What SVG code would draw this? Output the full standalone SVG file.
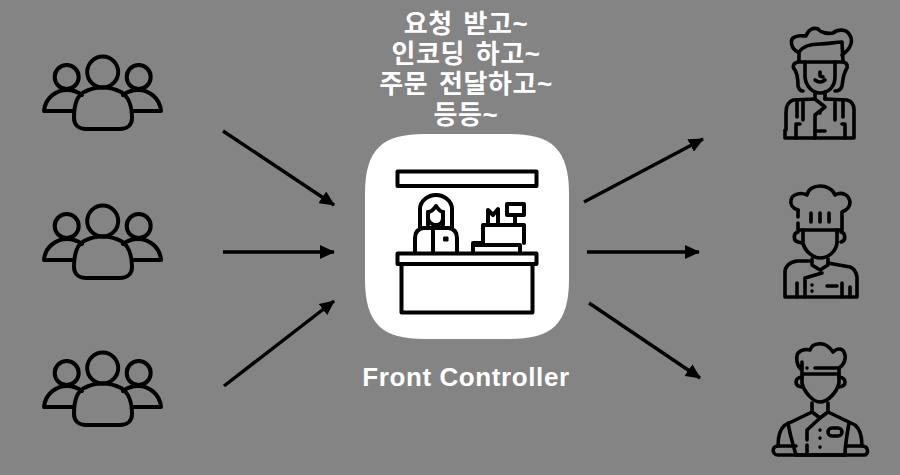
<svg xmlns="http://www.w3.org/2000/svg" width="900" height="475" viewBox="0 0 900 475">
<style>
.i{fill:none;stroke:#000;stroke-width:4;stroke-linecap:round;stroke-linejoin:round}
.t{fill:none;stroke:#000;stroke-width:3.6;stroke-linecap:round;stroke-linejoin:round}
.c{stroke:#000;stroke-width:3.4;fill:none}
.l{fill:#fff;font-family:"Liberation Sans","Noto Sans CJK KR",sans-serif;font-weight:700;text-anchor:middle}
.k{font-size:26px;letter-spacing:.6px;word-spacing:3px}
</style>
<defs>
<marker id="a" markerUnits="userSpaceOnUse" markerWidth="15" markerHeight="14" refX="14" refY="7" orient="auto"><path d="M0 0L15 7L0 14Z" fill="#000"/></marker>
<g id="p" class="i">
<circle cx="102.700" cy="72" r="15.500"/><circle cx="66.700" cy="77" r="12"/><circle cx="138.700" cy="77" r="12"/>
<path d="M84 92C76 96 74 106 74 118C74 125 79 129 86 129H120C127 129 132 125 132 118C132 106 128 96 121 92C110 86 95 86 84 92Z"/>
<path d="M73 111H44C45 98 56 90 67 90C72 90 78 92 82 95"/>
<path d="M132 111H161C160 98 149 90 138 90C133 90 127 92 123 95"/>
</g>
</defs>
<rect width="900" height="475" fill="#848484"/>
<g id="connectors" class="c">
<path d="M223 131L334 205" marker-end="url(#a)"/>
<path d="M223 252L334 252" marker-end="url(#a)"/>
<path d="M224 386L334 301" marker-end="url(#a)"/>
<path d="M584 202L703 139" marker-end="url(#a)"/>
<path d="M587 252L699 252" marker-end="url(#a)"/>
<path d="M589 303L700 378" marker-end="url(#a)"/>
</g>
<g id="users-1"><use href="#p"/></g>
<g id="users-2"><use href="#p" y="149"/></g>
<g id="users-3"><use href="#p" y="296"/></g>
<g id="front-controller">
<path d="M425 134H509C552 134 569 149 569 194V279C569 324 552 339 509 339H425C382 339 365 324 365 279V194C365 149 382 134 425 134Z" fill="#fff"/>
<g class="i">
<rect x="397.500" y="171.500" width="139" height="14.500"/>
<rect x="397.500" y="253.500" width="139" height="10.500"/>
<path d="M401.500 264V312.500H532.500V264"/>
<path d="M420 227V209C420 201 428 195 436 195C444 195 452 201 452 209V227"/>
<path d="M428 225V212C431 212 434 209 436 206C438 209 441 212 443 212V225"/>
<path d="M428 212V218C428 222 432 225 436 225C440 225 443 222 443 218V212"/>
<path d="M415 252V238C415 232 418 229 423 228H449C454 229 457 232 457 238V252"/>
<path d="M433 228V252"/>
<rect x="444" y="237" width="4" height="4" stroke-width="1" fill="#000"/>
<path d="M473 252V243H483V225H524V243M520 245V252M475 245H520"/>
<path d="M488 225V210L493 215L498 209V225"/>
<rect x="507" y="204" width="17" height="11"/>
<path d="M515 215V225"/>
</g>
</g>
<g id="chef-1" class="t">
<path d="M798 52C791 49 789 39 795 37C798 35 802 36 806 36C808 30 813 27 818 29C821 33 828 34 833 33C838 29 846 29 849 34C854 40 851 49 842 55"/>
<path d="M799 62V52C803 46 812 44 820 44C828 44 836 42 842 42L843 62H799Z"/>
<path d="M798 62C793 63 792 67 795 70C798 75 798 80 798 86C799 90 801 91 803 91"/>
<path d="M843 62C848 63 848 67 846 70C843 75 843 80 842 86C841 90 838 91 835 91"/>
<path d="M805 62V77C806 87 813 93 820 93C828 93 835 87 835 77V62"/>
<path d="M820 72V76L823 77"/>
<path d="M815 80Q820 84 825 80"/>
<path d="M815 92V99L825 107L815 115V138M825 92V99"/>
<path d="M815 99L793 100C788 102 786 106 786 112V130M785 130V138H854V110C854 104 851 101 847 100L825 99"/>
<path d="M797 100V117M803 100V120M835 100V120M843 100V117M796 138V124H800M845 138V124H842"/>
<path d="M815 131H825M820 113v.1"/>
</g>
<g id="chef-2" class="t">
<path d="M798 210C792 208 790 204 791 200C792 194 801 192 807 195C808 189 814 186 820 186C826 186 833 189 835 195C842 191 849 195 850 202C850 207 847 210 842 212V230H798V223"/>
<path d="M798 210V217"/>
<path d="M811 213V222M820 213V222M829 213V222"/>
<path d="M798 232C793 233 793 241 798 242L802 243M841 232C846 233 846 241 841 242"/>
<path d="M803 230V243C805 252 814 258 820 258C829 258 836 251 837 243V230"/>
<path d="M812 259V265L820 270L828 265V259"/>
<path d="M809 261H797C789 262 785 267 785 272V297H857V277C856 271 853 268 850 267L828 263"/>
<path d="M822 273L805 278V297M797 283V297M850 287V297M842 283V297M827 286H837"/>
<path d="M812 285v.1M812 291v.1"/>
</g>
<g id="chef-3" class="t">
<path d="M802 370C796 366 796 356 798 353C802 349 806 349 810 350C811 346 815 344 818 344C823 343 828 345 833 352C837 348 842 348 844 352C847 358 844 365 839 368V374H802V362"/>
<path d="M815 368H839M807 368v.1"/>
<path d="M802 377C794 378 794 386 802 387M839 377C847 378 847 386 839 387"/>
<path d="M802 375V383C804 392 813 402 820 402C828 402 837 392 839 383V375"/>
<path d="M812 403V412L820 418L828 412V403"/>
<path d="M812 412L785 425C780 429 778 436 778 446M828 412L855 425C860 429 862 436 862 446"/>
<path d="M778 446H796M847 446H862C869 446 869 455 864 455H778C772 455 771 446 778 446"/>
<path d="M788 423C790 435 793 445 796 455M849 423C847 435 845 445 845 455"/>
<path d="M820 418L807 430V440M807 445V455M796 455H845"/>
<path d="M820 430v.1M820 438v.1M820 447v.1"/>
<rect x="828" y="428" width="14" height="8" rx="4"/>
</g>
<g id="labels" class="l">
<text class="k" x="466" y="33">요청 받고~</text>
<text class="k" x="466" y="63">인코딩 하고~</text>
<text class="k" x="466" y="93">주문 전달하고~</text>
<text class="k" x="466" y="124">등등~</text>
<text x="466" y="386" font-size="26" letter-spacing=".6">Front Controller</text>
</g>
</svg>
